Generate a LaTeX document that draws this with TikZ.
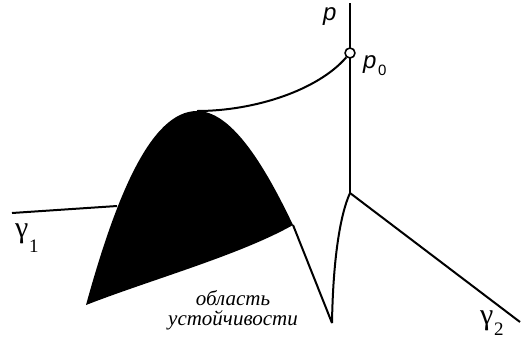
\documentclass[tikz,border=0pt]{standalone}
\usepackage{fontspec}
\setmainfont{Liberation Serif}
\newfontfamily\rotulosans{Liberation Sans}
\usetikzlibrary{positioning}

\begin{document}
\begin{tikzpicture}[x=1pt, y=-1pt, line width=2pt, line join=round,
  rotulo/.style={inner sep=0pt, anchor=base west, font=\fontsize{30}{30}\selectfont},
  indice/.style={inner sep=0pt, anchor=base west, font=\fontsize{19}{19}\selectfont},
  rotulop/.style={inner sep=0pt, anchor=base west, font=\rotulosans\itshape\fontsize{24}{24}\selectfont}]
  \useasboundingbox (0,0) rectangle (521,341);
  % --- pontos principais ---
  \coordinate (topo) at (350,3);
  \coordinate (juncao) at (350,193);
  \coordinate (pico) at (197,111);
  \coordinate (ponta) at (86,305);
  \coordinate (borda) at (293,225);
  \coordinate (cuspide) at (332,323);
  \coordinate (g1ini) at (12,213);
  \coordinate (g1fim) at (117,206);
  \coordinate (g2fim) at (520,322);
  % --- regiao de estabilidade ---
  \fill[black] (ponta) .. controls (115,200) and (150,111) .. (pico)
    .. controls (230,111) and (262,160) .. (borda)
    .. controls (240,255) and (150,280) .. (ponta) -- cycle;
  \draw (borda) -- (cuspide);
  \draw (cuspide) .. controls (333,260) and (340,215) .. (juncao);
  % --- eixo p ---
  \draw (topo) -- (juncao);
  \node[circle, draw, fill=white, inner sep=0pt, minimum size=10pt, line width=1.6pt] (p0) at (350,53) {};
  \draw (pico) .. controls (255,111) and (318,90) .. (p0);
  % --- retas gamma ---
  \draw (g1ini) -- (g1fim);
  \draw (juncao) -- (g2fim);
  % --- rotulos ---
  \node[rotulop] (p) at (322,20) {p};
  \node[rotulop] (p0lbl) at (362,68) {p};
  \node[indice, font=\rotulosans\fontsize{15}{15}\selectfont] (p0idx) at (377,75) {0};
  \node[rotulo] (g1) at (14,237) {γ};
  \node[indice] (g1idx) at (28,252) {1};
  \node[rotulo] (g2) at (479,324) {γ};
  \node[indice] (g2idx) at (493,335) {2};
  \node[inner sep=0pt, anchor=base, font=\itshape\fontsize{21}{21}\selectfont] (txt1) at (233,305) {область};
  \node[inner sep=0pt, anchor=base, font=\itshape\fontsize{21}{21}\selectfont] (txt2) at (233,325) {устойчивости};
\end{tikzpicture}
\end{document}
